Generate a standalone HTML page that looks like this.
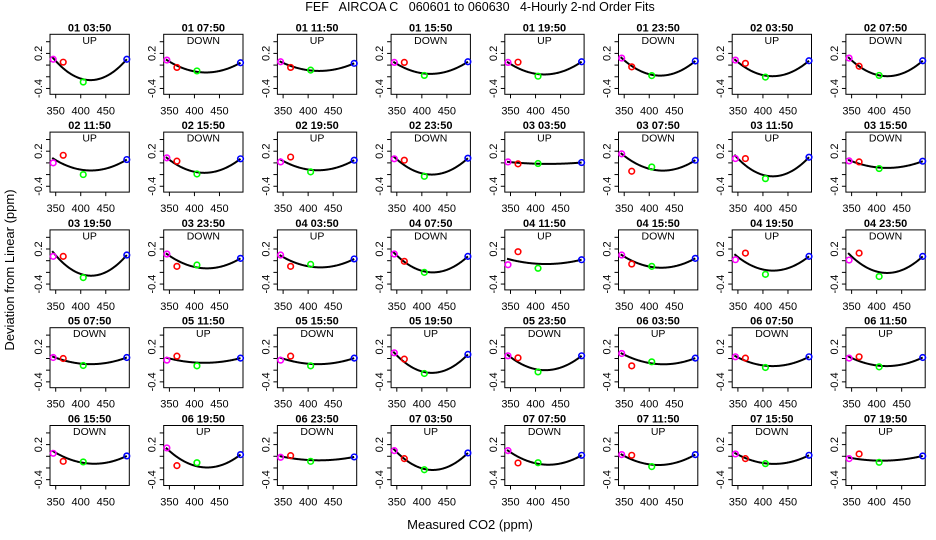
<!DOCTYPE html>
<html><head><meta charset="utf-8">
<style>
html,body{margin:0;padding:0;background:#fff;}
svg{display:block;font-family:"Liberation Sans",sans-serif;}
</style></head>
<body>
<svg id="chart" width="936" height="540" viewBox="0 0 936 540" xmlns="http://www.w3.org/2000/svg">
<rect width="936" height="540" fill="#fff"/>
<text x="480" y="11" font-size="12.5" text-anchor="middle" xml:space="preserve">FEF   AIRCOA C   060601 to 060630   4-Hourly 2-nd Order Fits</text>
<text x="470" y="529" font-size="13" text-anchor="middle">Measured CO2 (ppm)</text>
<text x="14" y="270" font-size="13" text-anchor="middle" transform="rotate(-90 14 270)">Deviation from Linear (ppm)</text>
<g id="panels"></g>
</svg>
<script>
const titles = ["01 03:50","01 07:50","01 11:50","01 15:50","01 19:50","01 23:50","02 03:50","02 07:50",
"02 11:50","02 15:50","02 19:50","02 23:50","03 03:50","03 07:50","03 11:50","03 15:50",
"03 19:50","03 23:50","04 03:50","04 07:50","04 11:50","04 15:50","04 19:50","04 23:50",
"05 07:50","05 11:50","05 15:50","05 19:50","05 23:50","06 03:50","06 07:50","06 11:50",
"06 15:50","06 19:50","06 23:50","07 03:50","07 07:50","07 11:50","07 15:50","07 19:50"];
const directions = ["UP","DOWN","UP","DOWN","UP","DOWN","UP","DOWN",
"UP","DOWN","UP","DOWN","UP","DOWN","UP","DOWN",
"UP","DOWN","UP","DOWN","UP","DOWN","UP","DOWN",
"DOWN","UP","DOWN","UP","DOWN","UP","DOWN","UP",
"DOWN","UP","DOWN","UP","DOWN","UP","DOWN","UP"];
const pointX = [345, 365, 405, 492];
const pointColors = ["#ff00ff","#ff0000","#00ff00","#0000ff"];
const magentaVals = [0.10,0.086,0.057,0.046,0.046,0.12,0.086,0.12,
0.0,0.086,0.017,0.07,0.017,0.154,0.074,0.034,
0.074,0.114,0.097,0.114,-0.069,0.097,0.017,0.011,
0.017,-0.029,-0.029,0.097,0.046,0.086,0.029,0.006,
0.051,0.143,-0.017,0.097,0.097,0.029,0.04,-0.04];
const redVals = [0.05,-0.04,-0.04,0.046,0.05,-0.03,0.03,-0.02,
0.13,0.03,0.10,0.046,-0.017,-0.143,0.074,0.017,
0.074,-0.097,-0.097,-0.011,0.154,-0.057,0.13,0.13,
0.0,0.04,0.04,-0.011,0.011,-0.126,0.006,0.029,
-0.086,-0.16,0.011,-0.04,-0.114,0.017,-0.04,0.04];
const greenVals = [-0.29,-0.10,-0.086,-0.177,-0.19,-0.18,-0.206,-0.177,
-0.20,-0.19,-0.154,-0.23,-0.011,-0.07,-0.27,-0.097,
-0.29,-0.074,-0.063,-0.20,-0.13,-0.097,-0.234,-0.27,
-0.12,-0.126,-0.126,-0.257,-0.23,-0.057,-0.154,-0.143,
-0.097,-0.11,-0.086,-0.23,-0.11,-0.177,-0.126,-0.103];
const blueVals = [0.10,0.04,0.03,0.057,0.057,0.07,0.074,0.074,
0.057,0.07,0.046,0.08,0.006,0.046,0.097,0.029,
0.097,0.04,0.03,0.074,0.017,0.04,0.074,0.074,
0.017,0.006,0.006,0.07,0.046,0.006,0.029,0.017,
0.006,0.029,-0.011,0.057,0.017,0.029,0.017,0.006];
const curveStart = [0.12,0.086,0.057,0.046,0.046,0.12,0.086,0.12,
0.074,0.086,0.057,0.10,0.017,0.154,0.12,0.046,
0.143,0.114,0.086,0.13,0.029,0.097,0.097,0.114,
0.029,0.011,0.011,0.097,0.057,0.086,0.04,0.029,
0.086,0.13,0.0,0.114,0.097,0.029,0.051,-0.023];
const curveMid = [-0.257,-0.126,-0.10,-0.15,-0.16,-0.18,-0.19,-0.19,
-0.13,-0.17,-0.126,-0.20,-0.017,-0.13,-0.23,-0.086,
-0.257,-0.13,-0.114,-0.20,-0.057,-0.12,-0.17,-0.21,
-0.097,-0.074,-0.097,-0.246,-0.20,-0.097,-0.13,-0.13,
-0.126,-0.19,-0.069,-0.234,-0.143,-0.149,-0.13,-0.074];
const curveEnd = blueVals.slice();
const xTicks = [350,400,450];
const yTicks = [0.4,0.2,0.0,-0.2,-0.4];
const yLabels = ["","0.2","","","-0.4"];

const NS = "http://www.w3.org/2000/svg";
const g = document.getElementById('panels');
const BOXW = 79.3, BOXH = 60, X0 = 50, COLP = 113.7, Y0 = 34.3, ROWP = 97.8;
const XMIN = 338.6, XMAX = 497, YMIN = -0.50, YMAX = 0.527;
function mk(tag, attrs, parent){ const e = document.createElementNS(NS, tag); for (const k in attrs) e.setAttribute(k, attrs[k]); (parent||g).appendChild(e); return e; }
function quad(x0,y0,x1,y1,x2,y2,x){
  return y0*(x-x1)*(x-x2)/((x0-x1)*(x0-x2)) + y1*(x-x0)*(x-x2)/((x1-x0)*(x1-x2)) + y2*(x-x0)*(x-x1)/((x2-x0)*(x2-x1));
}
for (let i=0;i<titles.length;i++){
  const col = i%8, row = Math.floor(i/8);
  const bx = X0 + col*COLP, by = Y0 + row*ROWP;
  const sx = v => bx + (v - XMIN)/(XMAX - XMIN)*BOXW;
  const sy = v => by + (YMAX - v)/(YMAX - YMIN)*BOXH;
  const pg = mk('g', {});
  
  
  const box = mk('rect', {x:bx, y:by, width:BOXW, height:BOXH, fill:'none', stroke:'#000', 'stroke-width':1}, pg);
  
  
  const t = mk('text', {x:bx+BOXW/2, y:by-3, 'font-size':11, 'font-weight':'bold', 'text-anchor':'middle'}, pg);
  t.textContent = titles[i];
  
  
  const st = mk('text', {x:bx+BOXW/2, y:by+9.5, 'font-size':10.5, 'text-anchor':'middle'}, pg);
  st.textContent = directions[i];
  
  
  xTicks.forEach(v => {
    const x = sx(v);
    mk('line', {x1:x, y1:by+BOXH, x2:x, y2:by+BOXH+4, stroke:'#000'}, pg);
    const tl = mk('text', {x:x, y:by+BOXH+20, 'font-size':11, 'text-anchor':'middle'}, pg);
    tl.textContent = v;
    
    
  });
  yTicks.forEach((v,k) => {
    const y = sy(v);
    mk('line', {x1:bx-4, y1:y, x2:bx, y2:y, stroke:'#000'}, pg);
    if (yLabels[k]) {
      const tl = mk('text', {x:bx-8, y:y, 'font-size':11, 'text-anchor':'middle', transform:`rotate(-90 ${bx-8} ${y})`}, pg);
      tl.textContent = yLabels[k];
      
      
    }
  });
  let d = '';
  for (let x=343; x<=492; x+=1){
    const v = quad(345,curveStart[i],420,curveMid[i],492,curveEnd[i],x);
    d += (x===343?'M':'L') + sx(x).toFixed(2) + ' ' + sy(v).toFixed(2) + ' ';
  }
  const c = mk('path', {d:d, fill:'none', stroke:'#000', 'stroke-width':2}, pg);
  
  
  const vals = [magentaVals[i], redVals[i], greenVals[i], blueVals[i]];
  vals.forEach((v,k) => {
    const p = mk('circle', {cx:sx(pointX[k]), cy:sy(v), r:2.8, fill:'none', stroke:pointColors[k], 'stroke-width':1.6}, pg);
    
    
  });
}
</script>
</body></html>
